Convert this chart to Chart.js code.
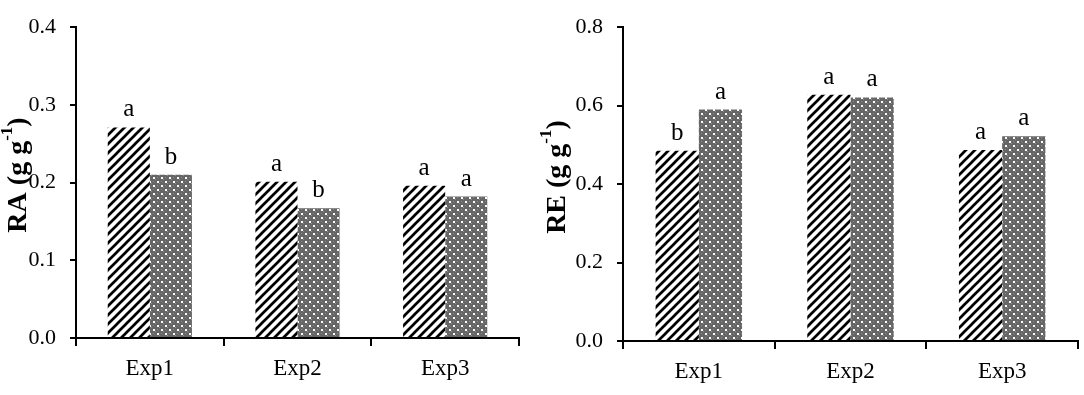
<!DOCTYPE html>
<html><head><meta charset="utf-8">
<script src="https://cdn.jsdelivr.net/npm/chart.js@4"></script>
<style>
html,body{margin:0;padding:0;background:#fff;}
#wrap{position:relative;width:1084px;height:395px;overflow:hidden;}
#c1{position:absolute;left:0;top:0;}
#c2{position:absolute;left:540px;top:0;}
</style></head><body>
<div id="wrap">
<canvas id="c1" width="540" height="395"></canvas>
<canvas id="c2" width="544" height="395"></canvas>
</div>
<script>
const categories = ['Exp1', 'Exp2', 'Exp3'];
const raHatched = [0.271, 0.201, 0.196];
const raDotted  = [0.210, 0.167, 0.182];
const reHatched = [0.485, 0.628, 0.487];
const reDotted  = [0.590, 0.621, 0.522];
const raLettersHatched = ['a', 'a', 'a'];
const raLettersDotted  = ['b', 'b', 'a'];
const reLettersHatched = ['b', 'a', 'a'];
const reLettersDotted  = ['a', 'a', 'a'];
const raTicks = [0, 0.1, 0.2, 0.3, 0.4];
const reTicks = [0, 0.2, 0.4, 0.6, 0.8];
const raTitle = ['RA (g g', '-1', ')'];
const reTitle = ['RE (g g', '-1', ')'];

const SERIF = '"Liberation Serif", "Times New Roman", serif';

function hatchPattern(ctx) {
  const s = 9;
  const t = document.createElement('canvas');
  t.width = s; t.height = s;
  const c = t.getContext('2d');
  c.fillStyle = '#fff'; c.fillRect(0, 0, s, s);
  c.strokeStyle = '#000'; c.lineWidth = 2.7; c.lineCap = 'square';
  for (const k of [-s, 0, s]) {
    c.beginPath(); c.moveTo(k, s); c.lineTo(k + s, 0); c.stroke();
  }
  return ctx.createPattern(t, 'repeat');
}
function dotPattern(ctx) {
  const s = 8;
  const t = document.createElement('canvas');
  t.width = s; t.height = s;
  const c = t.getContext('2d');
  c.fillStyle = '#666666'; c.fillRect(0, 0, s, s);
  c.fillStyle = '#8e8e8e';
  c.fillRect(5, 1, 1, 1); c.fillRect(1, 5, 1, 1);
  c.fillRect(3, 3, 1, 1); c.fillRect(7, 7, 1, 1);
  c.fillStyle = '#ffffff';
  c.fillRect(1, 1, 2, 2);
  c.fillRect(5, 5, 2, 2);
  return ctx.createPattern(t, 'repeat');
}

function lettersPlugin(sets, offset) {
  return {
    id: 'letters',
    afterDatasetsDraw(chart) {
      const ctx = chart.ctx;
      ctx.save();
      ctx.font = '25px ' + SERIF;
      ctx.fillStyle = '#000';
      ctx.textAlign = 'center';
      ctx.textBaseline = 'alphabetic';
      sets.forEach((letters, i) => {
        chart.getDatasetMeta(i).data.forEach((bar, j) => {
          ctx.fillText(letters[j], bar.x, bar.y - offset);
        });
      });
      ctx.restore();
    }
  };
}

function titlePlugin(parts, cx, cy) {
  return {
    id: 'ytitle',
    afterDraw(chart) {
      const ctx = chart.ctx;
      ctx.save();
      const mainFont = 'bold 28px ' + SERIF;
      const supFont = 'bold 17px ' + SERIF;
      ctx.font = mainFont; const w1 = ctx.measureText(parts[0]).width;
      const w3 = ctx.measureText(parts[2]).width;
      ctx.font = supFont; const w2 = ctx.measureText(parts[1]).width;
      const total = w1 + w2 + w3;
      ctx.translate(cx, cy);
      ctx.rotate(-Math.PI / 2);
      ctx.fillStyle = '#000';
      ctx.textBaseline = 'middle';
      ctx.textAlign = 'left';
      let x = -total / 2;
      ctx.font = mainFont; ctx.fillText(parts[0], x, 1); x += w1;
      ctx.font = supFont; ctx.fillText(parts[1], x, -10); x += w2;
      ctx.font = mainFont; ctx.fillText(parts[2], x, 1);
      ctx.restore();
    }
  };
}

function makeChart(id, hatched, dotted, ticks, max, yWidth, xHeight, pad, letterSets, title, tcx, tcy) {
  const canvas = document.getElementById(id);
  const ctx = canvas.getContext('2d');
  return new Chart(ctx, {
    type: 'bar',
    data: {
      labels: categories,
      datasets: [
        { data: hatched, backgroundColor: hatchPattern(ctx), borderWidth: 0, categoryPercentage: 0.57, barPercentage: 1.0 },
        { data: dotted, backgroundColor: dotPattern(ctx), borderWidth: 0, categoryPercentage: 0.57, barPercentage: 1.0 }
      ]
    },
    options: {
      responsive: false,
      animation: false,
      layout: { padding: pad },
      plugins: { legend: { display: false }, tooltip: { enabled: false } },
      scales: {
        x: {
          grid: { drawOnChartArea: false, drawTicks: true, tickLength: 8, color: '#000', lineWidth: 2, offset: true },
          border: { color: '#000', width: 2 },
          ticks: { color: '#000', font: { family: SERIF, size: 23 }, padding: 9 },
          afterFit(scale) { scale.height = xHeight; }
        },
        y: {
          min: 0, max: max,
          afterBuildTicks(scale) { scale.ticks = ticks.map(v => ({ value: v })); },
          grid: { drawOnChartArea: false, drawTicks: true, tickLength: 6, color: '#000', lineWidth: 2 },
          border: { color: '#000', width: 2 },
          ticks: { color: '#000', font: { family: SERIF, size: 22 }, padding: 14, callback: v => Number(v).toFixed(1) },
          afterFit(scale) { scale.width = yWidth; }
        }
      }
    },
    plugins: [lettersPlugin(letterSets, 11), titlePlugin(title, tcx, tcy)]
  });
}

makeChart('c1', raHatched, raDotted, raTicks, 0.4, 76, 57, { top: 19, right: 21, left: 0, bottom: 0 },
  [raLettersHatched, raLettersDotted], raTitle, 18, 175);
makeChart('c2', reHatched, reDotted, reTicks, 0.8, 83, 54, { top: 21, right: 6, left: 0, bottom: 0 },
  [reLettersHatched, reLettersDotted], reTitle, 17, 177);
</script>
</body></html>
